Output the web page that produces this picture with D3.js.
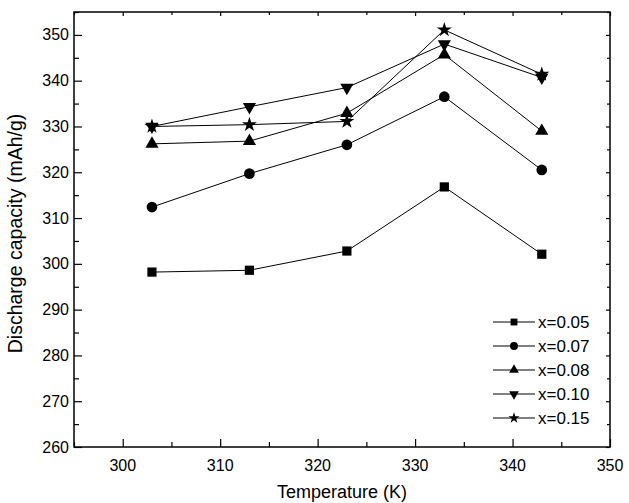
<!DOCTYPE html>
<html>
<head>
<meta charset="utf-8">
<script src="https://cdn.jsdelivr.net/npm/d3@7"></script>
<style>
  body { margin: 0; background: #fff; }
  text { font-family: "Liberation Sans", Arial, sans-serif; fill: #000; }
</style>
</head>
<body>
<div id="chart"></div>
<script>
// --- Discharge capacity vs temperature ---
const temps = [303, 313, 323, 333, 343];
const seriesNames = ["x=0.05", "x=0.07", "x=0.08", "x=0.10", "x=0.15"];
const cap005 = [298.2, 298.6, 302.8, 316.8, 302.1];
const cap007 = [312.4, 319.7, 326.0, 336.5, 320.5];
const cap008 = [326.2, 326.8, 332.9, 345.7, 329.0];
const cap010 = [330.0, 334.3, 338.5, 348.0, 340.7];
const cap015 = [330.0, 330.4, 331.1, 351.1, 341.4];
const xTicks = [300, 310, 320, 330, 340, 350];
const yTicks = [260, 270, 280, 290, 300, 310, 320, 330, 340, 350];

const series = [cap005, cap007, cap008, cap010, cap015].map((vals, i) => ({
    name: seriesNames[i],
    values: vals.map((v, j) => ({ t: temps[j], v: v }))
}));

const W = 629, H = 503;
const margin = { top: 12, right: 19, bottom: 56, left: 74 },
    width = W - margin.left - margin.right,
    height = H - margin.top - margin.bottom;

const root = d3.select("#chart").append("svg")
    .attr("width", W)
    .attr("height", H);

const svg = root.append("g")
    .attr("transform", `translate(${margin.left},${margin.top})`);

const x = d3.scaleLinear().domain([295, 350]).range([0, width]);
const y = d3.scaleLinear().domain([260, 355]).range([height, 0]);

const minorX = d3.range(295, 351, 5).filter(d => d % 10 !== 0);
const minorY = d3.range(265, 356, 10);

// frame
svg.append("rect")
    .attr("width", width)
    .attr("height", height)
    .attr("fill", "none")
    .attr("stroke", "#000")
    .attr("stroke-width", 1.5);

// ticks pointing inward
function tickGroup(axisFn, scale, values, size, transform) {
    const g = svg.append("g")
        .attr("transform", transform)
        .call(axisFn(scale).tickValues(values).tickSize(size).tickFormat(""));
    g.select(".domain").remove();
    g.selectAll("line").attr("stroke", "#000").attr("stroke-width", 1.2);
    return g;
}
tickGroup(d3.axisTop, x, xTicks, 8, `translate(0,${height})`);
tickGroup(d3.axisTop, x, minorX, 5, `translate(0,${height})`);
tickGroup(d3.axisBottom, x, xTicks, 4, "translate(0,0)");
tickGroup(d3.axisBottom, x, minorX, 3, "translate(0,0)");
tickGroup(d3.axisRight, y, yTicks, 8, "translate(0,0)");
tickGroup(d3.axisRight, y, minorY, 5, "translate(0,0)");
tickGroup(d3.axisLeft, y, yTicks, 4, `translate(${width},0)`);
tickGroup(d3.axisLeft, y, minorY, 3, `translate(${width},0)`);

// tick labels
svg.append("g").selectAll("text")
    .data(xTicks)
    .enter()
    .append("text")
    .attr("x", d => x(d))
    .attr("y", height + 24)
    .attr("text-anchor", "middle")
    .attr("font-size", 16)
    .text(d => d);

svg.append("g").selectAll("text")
    .data(yTicks)
    .enter()
    .append("text")
    .attr("x", -5)
    .attr("y", d => y(d))
    .attr("dy", "0.35em")
    .attr("text-anchor", "end")
    .attr("font-size", 16)
    .text(d => d);

// axis titles
svg.append("text")
    .attr("x", width / 2)
    .attr("y", height + 51)
    .attr("text-anchor", "middle")
    .attr("font-size", 18)
    .text("Temperature (K)");

svg.append("text")
    .attr("transform", `translate(${-52},${height / 2 + 4}) rotate(-90)`)
    .attr("text-anchor", "middle")
    .attr("font-size", 19.5)
    .text("Discharge capacity (mAh/g)");

// markers
const symbolTypes = [d3.symbolSquare, d3.symbolCircle, d3.symbolTriangle, d3.symbolTriangle, d3.symbolStar];
const symbolSizes = [85, 90, 75, 75, 70];
const rotations = [0, 0, 0, 180, 0];

const line = d3.line()
    .x(d => x(d.t))
    .y(d => y(d.v));

series.forEach((s, i) => {
    svg.append("path")
        .datum(s.values)
        .attr("fill", "none")
        .attr("stroke", "#000")
        .attr("stroke-width", 1)
        .attr("d", line);

    svg.selectAll(".pt" + i)
        .data(s.values)
        .enter()
        .append("path")
        .attr("class", "pt" + i)
        .attr("d", d3.symbol().type(symbolTypes[i]).size(symbolSizes[i])())
        .attr("transform", d => `translate(${x(d.t)},${y(d.v)}) rotate(${rotations[i]})`)
        .attr("fill", "#000");
});

// legend (smaller markers)
const legend = root.append("g").attr("transform", "translate(493,322)");
series.forEach((s, i) => {
    const row = legend.append("g").attr("transform", `translate(0,${i * 24})`);
    row.append("line")
        .attr("x1", 0).attr("x2", 42)
        .attr("y1", 0).attr("y2", 0)
        .attr("stroke", "#000")
        .attr("stroke-width", 1);
    row.append("path")
        .attr("d", d3.symbol().type(symbolTypes[i]).size(symbolSizes[i] * 0.55)())
        .attr("transform", `translate(21,0) rotate(${rotations[i]})`)
        .attr("fill", "#000");
    row.append("text")
        .attr("x", 45)
        .attr("y", 0)
        .attr("dy", "0.35em")
        .attr("font-size", 17)
        .text(s.name);
});
</script>
</body>
</html>
